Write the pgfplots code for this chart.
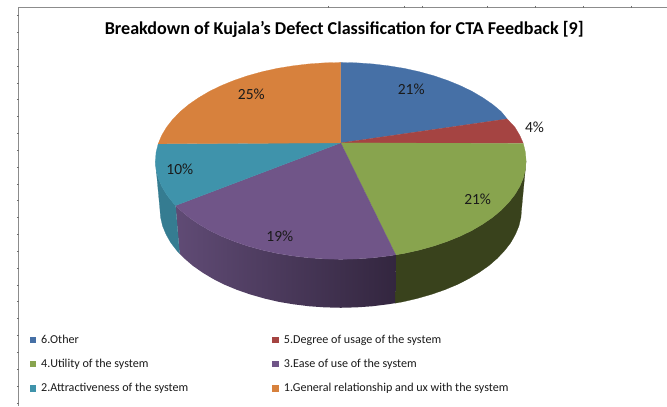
\documentclass[border=0pt]{standalone}
\usepackage{pgfplots}
\pgfplotsset{compat=1.18}
\usepackage{fontspec}
\setmainfont{Carlito}
\definecolor{cblue}{HTML}{4670A6}
\definecolor{cred}{HTML}{A54442}
\definecolor{cgreen}{HTML}{88A44E}
\definecolor{cpurple}{HTML}{705588}
\definecolor{cteal}{HTML}{3F93AB}
\definecolor{corange}{HTML}{D7813D}
\definecolor{sgreen}{HTML}{39421C}
\definecolor{steal}{HTML}{357C91}
\definecolor{spurpleL}{HTML}{604B75}
\definecolor{spurpleR}{HTML}{33263F}
\definecolor{txt}{HTML}{1A1A1A}
\definecolor{frame}{HTML}{8C8C8C}
\begin{document}
\begin{tikzpicture}
\begin{axis}[
  scale only axis, width=667pt, height=406pt,
  xmin=0, xmax=667, ymin=0, ymax=406, y dir=reverse,
  hide axis, clip=false, unbounded coords=jump,
]
\path (axis cs:0,0) rectangle (axis cs:667,406);
% frame
\addplot[frame, line width=1pt] coordinates {(667,8)(19,8)(19,406)};
\addplot[frame!80!black, line width=1pt] coordinates {
(17,15.7)(19,15.7)(nan,nan)(17,32.6)(19,32.6)(nan,nan)(17,49.4)(19,49.4)(nan,nan)
(17,66.3)(19,66.3)(nan,nan)(17,83.1)(19,83.1)(nan,nan)(17,100)(19,100)(nan,nan)
(17,116.8)(19,116.8)(nan,nan)(17,133.7)(19,133.7)(nan,nan)(17,150.5)(19,150.5)(nan,nan)
(17,167.4)(19,167.4)(nan,nan)(17,184.2)(19,184.2)(nan,nan)(17,201.1)(19,201.1)(nan,nan)
(17,217.9)(19,217.9)(nan,nan)(17,234.8)(19,234.8)(nan,nan)(17,251.6)(19,251.6)(nan,nan)
(17,268.5)(19,268.5)(nan,nan)(17,285.3)(19,285.3)(nan,nan)(17,302.2)(19,302.2)(nan,nan)
(17,319)(19,319)(nan,nan)(17,335.9)(19,335.9)(nan,nan)(17,352.7)(19,352.7)(nan,nan)
(17,369.6)(19,369.6)(nan,nan)(17,386.4)(19,386.4)(nan,nan)(17,403.3)(19,403.3)};
\addplot[frame!80!black, line width=1pt] coordinates {
(328.7,6)(328.7,8)(nan,nan)(405,6)(405,8)(nan,nan)(422.7,6)(422.7,8)(nan,nan)(488,6)(488,8)(nan,nan)(536,6)(536,8)(nan,nan)(584,6)(584,8)(nan,nan)(632,6)(632,8)};
% side walls
\addplot[fill=sgreen, draw=sgreen, line width=0.2pt] coordinates {
(526.5,161)(525.8,169.6)(523.7,178.1)(520.2,186.5)(515.3,194.7)(509.1,202.6)(501.6,210.3)(493,217.5)(483.1,224.3)(472.2,230.7)(460.2,236.5)(447.4,241.7)(433.8,246.3)(419.4,250.3)(404.4,253.6)(396,255)
(395.4,303.4)(402.9,302.1)(417.5,298.7)(431.5,294.7)(444.8,290.1)(457.3,284.9)(469,279)(479.6,272.6)(489.3,265.8)(497.7,258.5)(505,250.8)(511.1,242.9)(515.8,234.6)(519.3,226.2)(521.3,217.6)(522,209)} -- cycle;
\addplot[left color=spurpleL, right color=spurpleR, draw=none] coordinates {
(396,255)(389,256.1)(373.2,258)(357.2,259.1)(341,259.5)(324.8,259.1)(308.8,258)(293,256.1)(277.6,253.6)(262.6,250.3)(248.2,246.3)(234.6,241.7)(221.8,236.5)(209.8,230.7)(198.9,224.3)(189,217.5)(180.4,210.3)(175.7,205.7)
(179.7,253.9)(184.3,258.5)(192.7,265.8)(202.4,272.6)(213,279)(224.7,284.9)(237.2,290.1)(250.5,294.7)(264.5,298.7)(279.1,302.1)(294.2,304.6)(309.6,306.5)(325.2,307.6)(341,308)(356.8,307.6)(372.4,306.5)(387.8,304.6)(395.4,303.4)} -- cycle;
\addplot[fill=steal, draw=steal, line width=0.2pt] coordinates {
(175.7,205.7)(172.9,202.6)(166.7,194.7)(161.8,186.5)(158.3,178.1)(156.2,169.6)(155.5,161)
(160,209)(160.7,217.6)(162.7,226.2)(166.2,234.6)(170.9,242.9)(177,250.8)(179.7,253.9)} -- cycle;
% top face
\addplot[fill=cblue, draw=cblue, line width=0.2pt] coordinates {
(341,143)(341,62.5)(357.2,62.9)(373.2,64)(389,65.9)(404.4,68.4)(419.4,71.7)(433.8,75.7)(447.4,80.3)(460.2,85.5)(472.2,91.3)(483.1,97.7)(493,104.5)(501.6,111.7)(507.5,119)} -- cycle;
\addplot[fill=cred, draw=cred, line width=0.2pt] coordinates {
(341,143)(507.5,119)(515.3,127.3)(520.2,135.5)(523.7,143.5)} -- cycle;
\addplot[fill=cgreen, draw=cgreen, line width=0.2pt] coordinates {
(341,143)(523.7,143.5)(525.8,152.4)(526.5,161)(525.8,169.6)(523.7,178.1)(520.2,186.5)(515.3,194.7)(509.1,202.6)(501.6,210.3)(493,217.5)(483.1,224.3)(472.2,230.7)(460.2,236.5)(447.4,241.7)(433.8,246.3)(419.4,250.3)(404.4,253.6)(396,255)} -- cycle;
\addplot[fill=cpurple, draw=cpurple, line width=0.2pt] coordinates {
(341,143)(396,255)(389,256.1)(373.2,258)(357.2,259.1)(341,259.5)(324.8,259.1)(308.8,258)(293,256.1)(277.6,253.6)(262.6,250.3)(248.2,246.3)(234.6,241.7)(221.8,236.5)(209.8,230.7)(198.9,224.3)(189,217.5)(180.4,210.3)(175.7,205.7)} -- cycle;
\addplot[fill=cteal, draw=cteal, line width=0.2pt] coordinates {
(341,143)(175.7,205.7)(172.9,202.6)(166.7,194.7)(161.8,186.5)(158.3,178.1)(156.2,169.6)(155.5,161)(156.2,152.4)(158.3,143.9)} -- cycle;
\addplot[fill=corange, draw=corange, line width=0.2pt] coordinates {
(341,143)(158.3,143.9)(161.8,135.5)(166.7,127.3)(172.9,119.4)(180.4,111.7)(189,104.5)(198.9,97.7)(209.8,91.3)(221.8,85.5)(234.6,80.3)(248.2,75.7)(262.6,71.7)(277.6,68.4)(293,65.9)(308.8,64)(324.8,62.9)(341,62.5)} -- cycle;
% legend keys
\addplot[only marks, mark=square*, mark size=2.7pt, cblue, mark options={draw=cblue,fill=cblue}] coordinates {(33,339.7)};
\addplot[only marks, mark=square*, mark size=2.7pt, cred, mark options={draw=cred,fill=cred}] coordinates {(275.5,339.7)};
\addplot[only marks, mark=square*, mark size=2.7pt, cgreen, mark options={draw=cgreen,fill=cgreen}] coordinates {(33,364)};
\addplot[only marks, mark=square*, mark size=2.7pt, cpurple, mark options={draw=cpurple,fill=cpurple}] coordinates {(275.5,364)};
\addplot[only marks, mark=square*, mark size=2.7pt, cteal, mark options={draw=cteal,fill=cteal}] coordinates {(33,388.3)};
\addplot[only marks, mark=square*, mark size=2.7pt, corange, mark options={draw=corange,fill=corange}] coordinates {(275.5,388.3)};
% text
\node[anchor=base, inner sep=0pt, font=\fontsize{18.1}{20}\selectfont\bfseries, text=black] at (axis cs:344.5,35) {Breakdown of Kujala\symbol{39}s Defect Classification for CTA Feedback [9]};
\begin{scope}[every node/.style={text=txt, font=\fontsize{15.5}{17}\selectfont, anchor=base, inner sep=0pt}]
\node at (axis cs:411.5,95) {21\%};
\node at (axis cs:535,132.7) {4\%};
\node at (axis cs:478,204.3) {21\%};
\node at (axis cs:280,241.7) {19\%};
\node at (axis cs:180,175) {10\%};
\node at (axis cs:251.5,99.3) {25\%};
\end{scope}
\begin{scope}[every node/.style={text=txt, font=\fontsize{12.1}{14}\selectfont, anchor=base west, inner sep=0pt}]
\node at (axis cs:41,343.5) {6.Other};
\node at (axis cs:284,343.5) {5.Degree of usage of the system};
\node at (axis cs:41,367.5) {4.Utility of the system};
\node at (axis cs:284,367.5) {3.Ease of use of the system};
\node at (axis cs:41,391.7) {2.Attractiveness of the system};
\node at (axis cs:284,391.7) {1.General relationship and ux with the system};
\end{scope}
\end{axis}
\end{tikzpicture}
\end{document}
